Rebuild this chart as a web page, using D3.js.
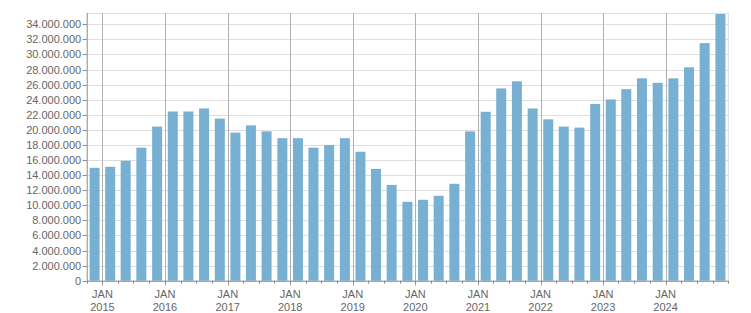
<html>
  <head>
    <style>
      body { margin: 0; background: #fff; }
      text { font-family: "Liberation Sans", Arial, sans-serif; font-size: 11px; fill: #666; }
    </style>
  </head>
  <body>
  <div id="chart"></div>

  <script src="https://d3js.org/d3.v7.js"></script>
  <script>

    // quarterly periods (start month of each quarter)
    var quarters = ["2014-10", "2015-01", "2015-04", "2015-07", "2015-10",
                    "2016-01", "2016-04", "2016-07", "2016-10",
                    "2017-01", "2017-04", "2017-07", "2017-10",
                    "2018-01", "2018-04", "2018-07", "2018-10",
                    "2019-01", "2019-04", "2019-07", "2019-10",
                    "2020-01", "2020-04", "2020-07", "2020-10",
                    "2021-01", "2021-04", "2021-07", "2021-10",
                    "2022-01", "2022-04", "2022-07", "2022-10",
                    "2023-01", "2023-04", "2023-07", "2023-10",
                    "2024-01", "2024-04", "2024-07", "2024-10"]

    // values (millions)
    var values = [14.97, 15.1, 15.9, 17.64, 20.44,
                  22.44, 22.44, 22.84, 21.5,
                  19.64, 20.6, 19.8, 18.9,
                  18.9, 17.64, 18.0, 18.9,
                  17.1, 14.83, 12.7, 10.46,
                  10.73, 11.26, 12.85, 19.8,
                  22.4, 25.5, 26.44, 22.84,
                  21.4, 20.44, 20.3, 23.44,
                  24.04, 25.4, 26.84, 26.24,
                  26.84, 28.3, 31.5, 35.37]

    var yearTicks = ["2015", "2016", "2017", "2018", "2019", "2020", "2021", "2022", "2023", "2024"]

    var width = 751
        height = 313
        margin = {top: 13, right: 22.7, bottom: 32.3, left: 86.7}

    var parse = d3.timeParse("%Y-%m")
    var locale = d3.formatLocale({decimal: ",", thousands: ".", grouping: [3], currency: ["", ""]})
    var fmt = locale.format(",")

    var svg = d3.select("#chart")
      .append("svg")
        .attr("width", width)
        .attr("height", height)

    var x = d3.scaleTime()
      .domain([parse(quarters[0]), d3.timeMonth.offset(parse(quarters[quarters.length - 1]), 3)])
      .range([margin.left, width - margin.right])

    var y = d3.scaleLinear()
      .domain([0, 35500000])
      .range([height - margin.bottom, margin.top])

    var yTicks = d3.range(0, 34000001, 2000000)
    var janDates = yearTicks.map(function(t) { return parse(t + "-01") })
    var quarterTicks = quarters.map(parse).concat([x.domain()[1]])

    // horizontal grid
    svg.append("g")
      .selectAll("line")
      .data(yTicks.concat([y.domain()[1]]))
      .enter().append("line")
        .attr("x1", margin.left).attr("x2", width - margin.right)
        .attr("y1", d => Math.round(y(d)) + 0.5).attr("y2", d => Math.round(y(d)) + 0.5)
        .attr("stroke", "#dedede")

    // right edge
    svg.append("line")
      .attr("x1", width - margin.right).attr("x2", width - margin.right)
      .attr("y1", margin.top).attr("y2", height - margin.bottom)
      .attr("stroke", "#dedede")

    // vertical JAN grid
    svg.append("g")
      .selectAll("line")
      .data(janDates)
      .enter().append("line")
        .attr("x1", d => Math.round(x(d)) + 0.5).attr("x2", d => Math.round(x(d)) + 0.5)
        .attr("y1", margin.top).attr("y2", height - margin.bottom + 5)
        .attr("stroke", "#b0b0b0")

    // bars
    svg.append("g")
      .selectAll("rect")
      .data(quarters)
      .enter().append("rect")
        .attr("x", function(d) {
          var d0 = parse(d), d1 = d3.timeMonth.offset(d0, 3)
          return (x(d0) + x(d1)) / 2 - 5
        })
        .attr("width", 10)
        .attr("y", (d, i) => y(values[i] * 1e6))
        .attr("height", (d, i) => y(0) - y(values[i] * 1e6))
        .attr("fill", "#78b0d3")

    // y axis
    var yAxis = svg.append("g")
    yAxis.append("line")
      .attr("x1", margin.left + 0.5).attr("x2", margin.left + 0.5)
      .attr("y1", margin.top).attr("y2", height - margin.bottom)
      .attr("stroke", "#8a8a8a")
    yAxis.selectAll(".tk")
      .data(yTicks)
      .enter().append("line")
        .attr("x1", margin.left - 4).attr("x2", margin.left)
        .attr("y1", d => Math.round(y(d)) + 0.5).attr("y2", d => Math.round(y(d)) + 0.5)
        .attr("stroke", "#8a8a8a")
    yAxis.selectAll("text")
      .data(yTicks)
      .enter().append("text")
        .attr("x", margin.left - 5.5)
        .attr("y", d => y(d) + 4)
        .attr("text-anchor", "end")
        .text(d => fmt(d))

    // x axis
    var xAxis = svg.append("g")
    xAxis.append("line")
      .attr("x1", margin.left).attr("x2", width - margin.right)
      .attr("y1", height - margin.bottom + 0.5).attr("y2", height - margin.bottom + 0.5)
      .attr("stroke", "#8a8a8a")
    xAxis.selectAll(".tk")
      .data(quarterTicks)
      .enter().append("line")
        .attr("x1", d => Math.round(x(d)) + 0.5).attr("x2", d => Math.round(x(d)) + 0.5)
        .attr("y1", height - margin.bottom).attr("y2", height - margin.bottom + 3)
        .attr("stroke", "#8a8a8a")
    var lbl = xAxis.selectAll(".lbl")
      .data(janDates)
      .enter().append("g")
    lbl.append("text")
      .attr("x", d => x(d))
      .attr("y", 298)
      .attr("text-anchor", "middle")
      .text("JAN")
    lbl.append("text")
      .attr("x", d => x(d))
      .attr("y", 310.5)
      .attr("text-anchor", "middle")
      .text((d, i) => yearTicks[i])

  </script>
  </body>
</html>
